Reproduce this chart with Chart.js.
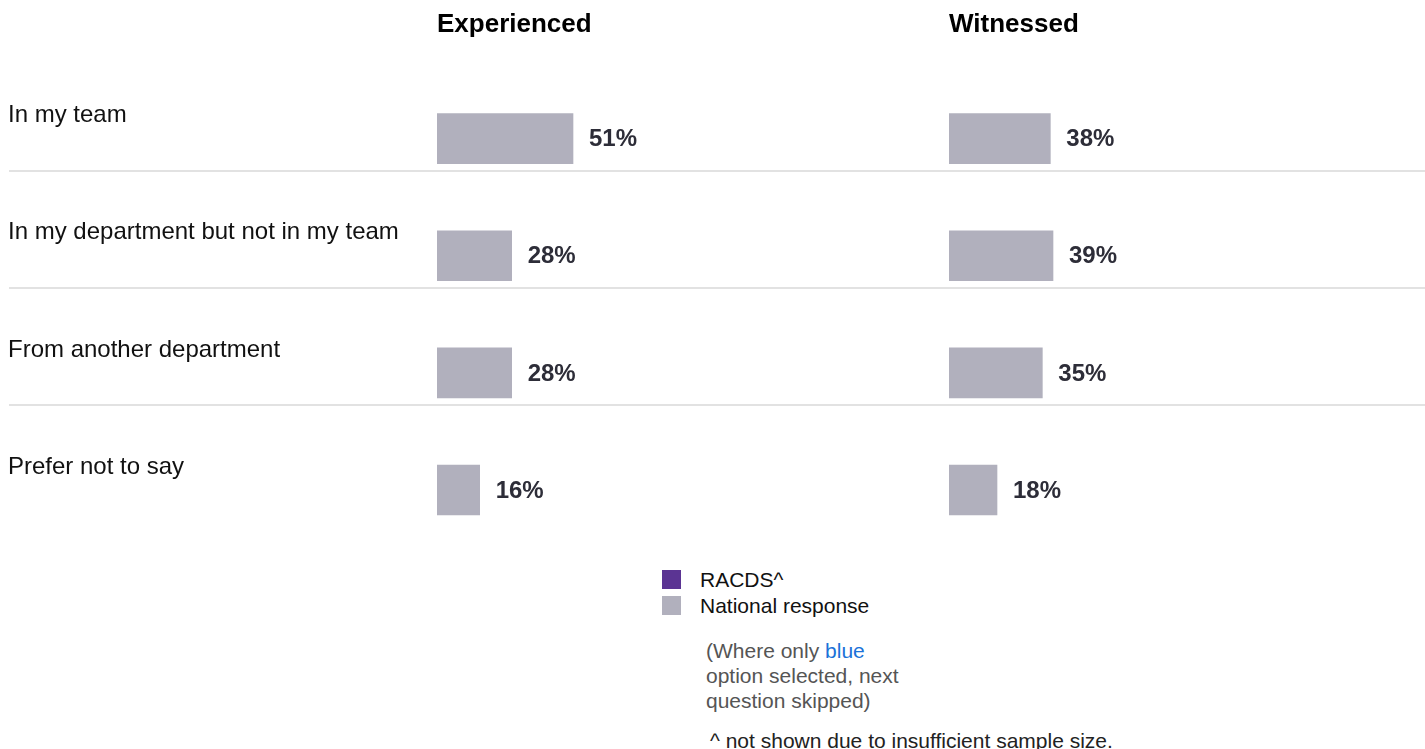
<!DOCTYPE html>
<html>
<head>
<meta charset="utf-8">
<title>Experienced / Witnessed</title>
<script src="https://cdn.jsdelivr.net/npm/chart.js@4.4.1/dist/chart.umd.min.js"></script>
<style>
  html, body { margin: 0; padding: 0; background: #fff; overflow: hidden; }
  body { font-family: "Liberation Sans", Arial, sans-serif; width: 1425px; height: 749px; position: relative; }
  #wrap { position: absolute; left: 0; top: 0; width: 1425px; height: 563px; }
  #legend { position: absolute; left: 662px; top: 567px; font-size: 21px; color: #111; }
  .item { position: relative; height: 26px; line-height: 26px; padding-left: 38px; white-space: nowrap; }
  .swatch { position: absolute; left: 0; top: 3px; width: 19px; height: 19px; }
  #note { position: absolute; left: 706px; top: 638px; font-size: 21px; line-height: 25px; color: #555; }
  #note .blue { color: #1b72d8; }
  #foot { position: absolute; left: 710px; top: 728px; font-size: 21px; line-height: 26px; color: #222; white-space: nowrap; }
</style>
</head>
<body>
<div id="wrap"><canvas id="chart"></canvas></div>
<div id="legend"></div>
<div id="note">(Where only <span class="blue">blue</span><br>option selected, next<br>question skipped)</div>
<div id="foot">^ not shown due to insufficient sample size.</div>

<script>
// Data
const categories = ['In my team', 'In my department but not in my team', 'From another department', 'Prefer not to say'];
const panels = ['Experienced', 'Witnessed'];
const experienced = [51, 28, 28, 16];
const witnessed = [38, 39, 35, 18];
const legendLabels = ['RACDS^', 'National response'];

// Colours
const barGray = '#b1b0bd';
const racdsPurple = '#5b3493';
const legendColors = [racdsPurple, barGray];
const fontFamily = '"Liberation Sans", Arial, sans-serif';

// HTML legend
const legend = document.getElementById('legend');
legendLabels.forEach((label, i) => {
    const item = document.createElement('div');
    item.className = 'item';
    const swatch = document.createElement('span');
    swatch.className = 'swatch';
    swatch.style.background = legendColors[i];
    item.appendChild(swatch);
    item.appendChild(document.createTextNode(label));
    legend.appendChild(item);
});

// Light separators under each row
const separators = {
    id: 'separators',
    beforeDatasetsDraw(chart) {
        const ctx = chart.ctx;
        const yScale = chart.scales.y;
        ctx.save();
        ctx.strokeStyle = '#e2e2e2';
        ctx.lineWidth = 2;
        for (let i = 0; i < categories.length - 1; i++) {
            const py = Math.floor(yScale.getPixelForValue(i) + 33);
            ctx.beginPath();
            ctx.moveTo(9, py);
            ctx.lineTo(chart.width, py);
            ctx.stroke();
        }
        ctx.restore();
    }
};

// Percentage labels right of the bars
const valueLabels = {
    id: 'valueLabels',
    afterDatasetsDraw(chart) {
        const ctx = chart.ctx;
        ctx.save();
        ctx.font = 'bold 24px ' + fontFamily;
        ctx.fillStyle = '#2d2d38';
        ctx.textAlign = 'left';
        ctx.textBaseline = 'middle';
        chart.data.datasets.forEach((ds, di) => {
            chart.getDatasetMeta(di).data.forEach((bar, i) => {
                ctx.fillText(ds.data[i] + '%', bar.x + 16, bar.y + 1);
            });
        });
        ctx.restore();
    }
};

// one top axis per panel, side by side in the same stack
function panelAxis(title, max, stackWeight, order) {
    return {
        type: 'linear',
        position: 'top',
        min: 0,
        max: max,
        weight: order,
        stack: 'panels',
        stackWeight: stackWeight,
        grid: { display: false, drawTicks: false },
        border: { display: false },
        ticks: { display: false },
        title: {
            display: true,
            text: title,
            align: 'start',
            color: '#000',
            font: { family: fontFamily, size: 26, weight: 'bold' },
            padding: { top: 9, bottom: 0 }
        },
        afterFit(scale) { scale.height = 80; }
    };
}

const ctx = document.getElementById('chart').getContext('2d');
const chart = new Chart(ctx, {
    type: 'bar',
    data: {
        labels: categories,
        datasets: [
            { label: panels[0], data: experienced, xAxisID: 'x1', backgroundColor: barGray, barThickness: 50, grouped: false },
            { label: panels[1], data: witnessed, xAxisID: 'x2', backgroundColor: barGray, barThickness: 50, grouped: false }
        ]
    },
    options: {
        indexAxis: 'y',
        responsive: true,
        maintainAspectRatio: false,
        animation: false,
        layout: { padding: { left: 8, right: 0, top: 0, bottom: 0 } },
        plugins: {
            legend: { display: false },
            tooltip: { enabled: false }
        },
        scales: {
            y: {
                type: 'category',
                position: 'left',
                grid: { display: false },
                border: { display: false },
                ticks: {
                    crossAlign: 'far',
                    labelOffset: -23,
                    padding: 0,
                    color: '#111',
                    font: { family: fontFamily, size: 24 }
                },
                afterFit(scale) { scale.width = 429; }
            },
            x1: panelAxis(panels[0], 192, 512, 1),
            x2: panelAxis(panels[1], 178.5, 476, 0)
        }
    },
    plugins: [separators, valueLabels]
});
</script>
</body>
</html>
